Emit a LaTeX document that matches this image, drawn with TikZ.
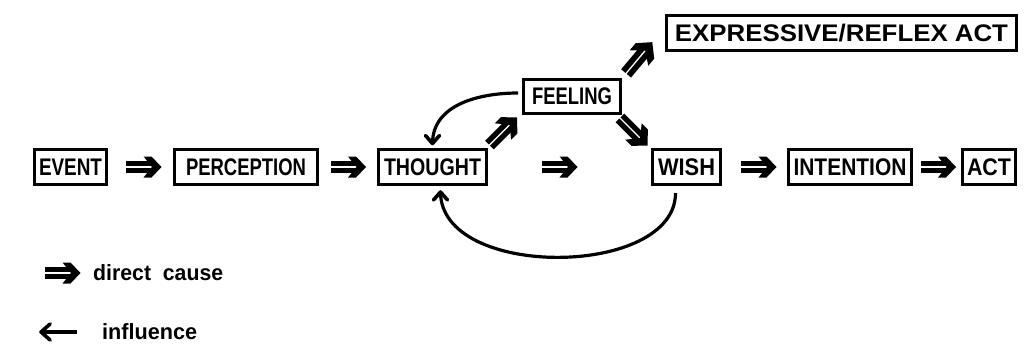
\documentclass[tikz,border=0pt]{standalone}
\usepackage{fontspec}
\setmainfont{Liberation Sans}
\usetikzlibrary{calc}

% squeeze or stretch a label to a given width, keeping its height
\newcommand\fitw[2]{\resizebox{#1}{\height}{#2}}

\tikzset{
  box/.style={draw, line width=3pt, inner sep=0pt, minimum height=35pt,
    font=\fontsize{24}{24}\selectfont\bfseries},
  lbl/.style={inner sep=0pt, anchor=west, font=\fontsize{22}{22}\selectfont\bfseries},
  infl/.style={line width=3.2pt},
  % thick double-shafted "direct cause" arrow, centred on its position
  cause/.pic={
    \fill (-17.5,0.7) rectangle (8,5.6);
    \fill (-17.5,-0.7) rectangle (8,-5.6);
    \fill (0,10.5) -- (8,10.5) -- (18,0) -- (8,-10.5) -- (0,-10.5) -- (8.5,0) -- cycle;
  },
  % open V head of an "influence" arrow, apex at the origin, pointing along +x
  vtip/.pic={
    \draw[line width=3.6pt, line cap=round, line join=round] (-8,-7) -- (0,0) -- (-8,7);
  },
}

\begin{document}
\begin{tikzpicture}[x=1pt, y=-1pt]
\path[fill=white, use as bounding box] (0,0) rectangle (1027,362);

% main chain
\node[box, minimum width=72pt]  (event)      at (70.5,167) {\fitw{63pt}{EVENT}};
\node[box, minimum width=143pt] (perception) at (246,167)  {\fitw{120pt}{PERCEPTION}};
\node[box, minimum width=108pt] (thought)    at (432.5,167){\fitw{97pt}{THOUGHT}};
\node[box, minimum width=68pt]  (wish)       at (686.5,167){\fitw{57pt}{WISH}};
\node[box, minimum width=123pt] (intention)  at (850,167)  {\fitw{113pt}{INTENTION}};
\node[box, minimum width=53pt]  (act)        at (989,167)  {\fitw{44pt}{ACT}};

% upper branch
\node[box, minimum width=97pt, minimum height=34pt] (feeling) at (572,96.5) {\fitw{80pt}{FEELING}};
\node[box, minimum width=350pt] (expressive) at (841.5,33) {\fitw{333pt}{EXPRESSIVE/REFLEX ACT}};

% direct causes
\pic at ($(event.east)!0.5!(perception.west)+(3,0)$) {cause};
\pic at ($(perception.east)!0.5!(thought.west)$) {cause};
\pic at ($(thought.east)!0.5!(wish.west)+(-10,0)$) {cause};
\pic at ($(wish.east)!0.5!(intention.west)+(4,0)$) {cause};
\pic at ($(intention.east)!0.5!(act.west)+(1,0)$) {cause};
\pic[rotate=45, scale=1.1] at ($(thought.north east)!0.5!(feeling.south west)+(-2,0)$) {cause};
\pic[rotate=-45, scale=1.1] at ($(feeling.south east)!0.5!(wish.north west)+(-3,0)$) {cause};
\pic[rotate=50, scale=1.15] at ($(feeling.north east)+(17,-20)$) {cause};

% influences
\coordinate (tipA) at ([yshift=4.5pt]thought.north);
\coordinate (tipB) at ([xshift=8pt, yshift=-6pt]thought.south);
\draw[infl, shorten <=4pt] ([yshift=3.5pt]feeling.west) to[out=180, in=90] (tipA);
\pic[rotate=-90] at (tipA) {vtip};
\draw[infl, shorten <=7pt] ([xshift=-11pt]wish.south)
  .. controls +(0,92) and +(0,88) .. (tipB);
\pic[rotate=90] at (tipB) {vtip};

% key
\pic at (62.5,273) {cause};
\node[lbl] (dcause) at (93,273) {\fitw{130pt}{direct\ \ cause}};
\coordinate (keyfrom) at (77,332);
\coordinate (keyto) at (41,332);
\draw[infl] (keyfrom) -- (keyto);
\pic[rotate=180, scale=1.15] at (keyto) {vtip};
\node[lbl] (influence) at (102,332) {\fitw{95pt}{influence}};
\end{tikzpicture}
\end{document}
